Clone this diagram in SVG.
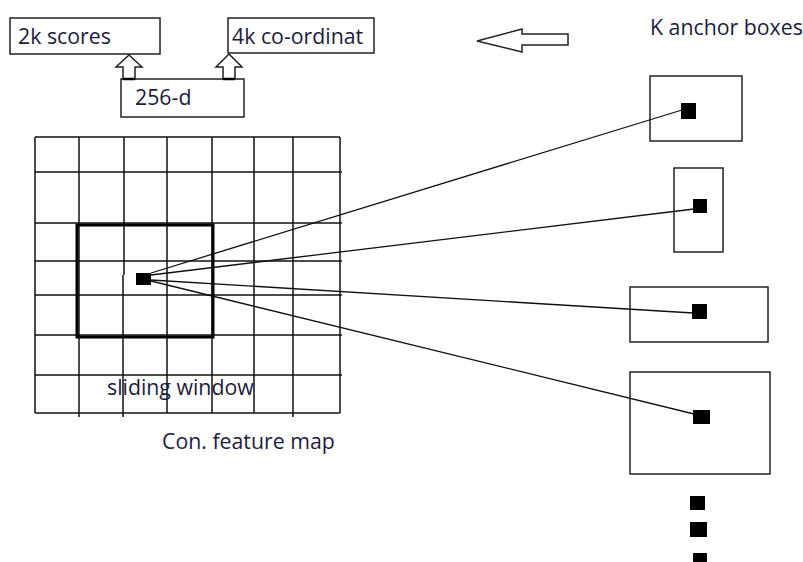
<svg xmlns="http://www.w3.org/2000/svg" width="803" height="562" viewBox="0 0 803 562">
<style>
.box{fill:#fff;stroke:#222;stroke-width:1.5}
.abox{fill:none;stroke:#222;stroke-width:1.5}
.grid{stroke:#111;stroke-width:1.5;fill:none}
.conn{stroke:#111;stroke-width:1.3;fill:none}
.dot{fill:#000}
.t{font-family:"Open Sans","Noto Sans",sans-serif;font-size:21.3px;fill:#1c1c3c}
.arr{fill:#fff;stroke:#222;stroke-width:1.5}
</style>
<rect width="803" height="562" fill="#fff"/>
<g id="scores">
<rect class="box" x="10" y="18" width="150" height="36"/>
<text class="t" x="18" y="44">2k scores</text>
</g>
<g id="coords">
<rect class="box" x="228" y="18" width="146" height="35"/>
<text class="t" x="232" y="44">4k co-ordinat</text>
</g>
<g id="d256">
<rect class="box" x="121" y="79" width="123" height="38"/>
<text class="t" x="135" y="105">256-d</text>
</g>
<g id="up-arrows">
<polygon class="arr" points="129,55 142,67 135,67 135,79 123,79 123,67 116,67"/>
<polygon class="arr" points="229,54 242,67 235,67 235,79 223,79 223,67 216,67"/>
<line x1="123" y1="79" x2="135" y2="79" stroke="#000" stroke-width="2.5"/>
<line x1="223" y1="79" x2="235" y2="79" stroke="#000" stroke-width="2.5"/>
</g>
<g id="left-arrow">
<polygon class="arr" points="477,41 522,29 522,34 568,34 568,45 522,45 522,52"/>
</g>
<g id="label-anchor">
<text class="t" x="650" y="35">K anchor boxes</text>
</g>
<g id="feature-map">
<g class="grid">
<line x1="35" y1="137" x2="35" y2="413"/>
<line x1="79" y1="137" x2="79" y2="417"/>
<line x1="124" y1="137" x2="124" y2="275"/>
<line x1="123" y1="275" x2="123" y2="417"/>
<line x1="167" y1="137" x2="167" y2="413"/>
<line x1="212" y1="137" x2="212" y2="413"/>
<line x1="254" y1="137" x2="254" y2="413"/>
<line x1="293" y1="137" x2="293" y2="417"/>
<line x1="340" y1="137" x2="340" y2="413"/>
<line x1="35" y1="137" x2="340" y2="137"/>
<line x1="35" y1="172" x2="342" y2="172"/>
<line x1="35" y1="223" x2="342" y2="223"/>
<line x1="35" y1="261" x2="342" y2="261"/>
<line x1="35" y1="295" x2="342" y2="295"/>
<line x1="35" y1="335" x2="342" y2="335"/>
<line x1="35" y1="375" x2="342" y2="375"/>
<line x1="35" y1="413" x2="340" y2="413"/>
</g>
<text class="t" x="162" y="449">Con. feature map</text>
</g>
<g id="sliding-window">
<rect x="77" y="225" width="136" height="112" fill="none" stroke="#000" stroke-width="3"/>
<rect class="dot" x="136" y="273" width="15" height="12"/>
<text class="t" x="107" y="395">sliding window</text>
</g>
<g id="anchor1">
<rect class="abox" x="650" y="76" width="92" height="65"/>
<rect class="dot" x="681" y="103" width="15" height="16"/>
</g>
<g id="anchor2">
<rect class="abox" x="674" y="168" width="49" height="84"/>
<rect class="dot" x="693" y="199" width="14" height="14"/>
</g>
<g id="anchor3">
<rect class="abox" x="630" y="287" width="138" height="55"/>
<rect class="dot" x="692" y="304" width="15" height="15"/>
</g>
<g id="anchor4">
<rect class="abox" x="630" y="372" width="140" height="102"/>
<rect class="dot" x="693" y="410" width="17" height="14"/>
</g>
<g id="more">
<rect class="dot" x="690" y="496" width="15" height="14"/>
<rect class="dot" x="690" y="522" width="17" height="15"/>
<rect class="dot" x="693" y="553" width="14" height="12"/>
</g>
<g id="connectors">
<line class="conn" x1="151" y1="273" x2="682" y2="110"/>
<line class="conn" x1="151" y1="275" x2="694" y2="209"/>
<line class="conn" x1="151" y1="280" x2="693" y2="313"/>
<line class="conn" x1="151" y1="281" x2="694" y2="414"/>
</g>
</svg>
